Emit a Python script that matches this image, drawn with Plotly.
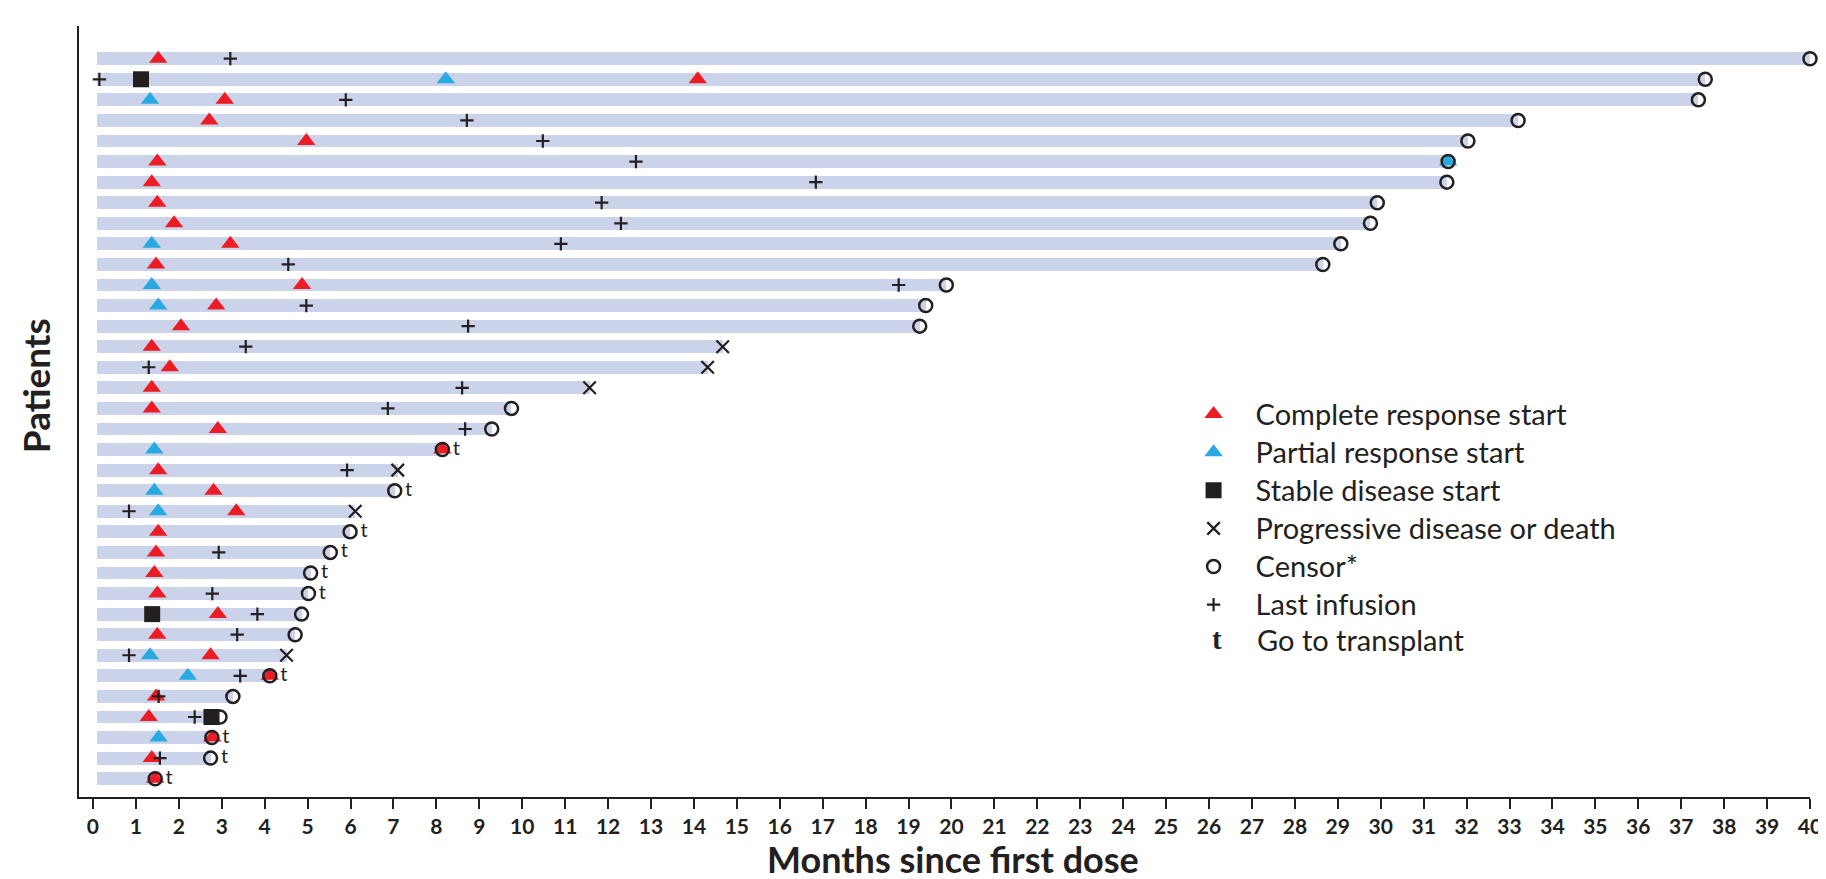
import plotly.graph_objects as go

# ---------------- data (patient rows, 1 = top) ----------------
patients = list(range(1, 37))
follow_up_months = [40.0, 37.56, 37.4, 33.2, 32.03, 31.57, 31.54, 29.92, 29.76, 29.07,
                    28.65, 19.88, 19.40, 19.26, 14.67, 14.32, 11.57, 9.75, 9.29, 8.14,
                    7.10, 7.03, 6.11, 5.99, 5.53, 5.07, 5.02, 4.86, 4.71, 4.51,
                    4.12, 3.26, 2.96, 2.77, 2.74, 1.45]
BAR_START = 0.1

cr_patients = [1, 2, 3, 4, 5, 6, 7, 8, 9, 10, 11, 12, 13, 14, 15, 16, 17, 18,
               19, 20, 21, 22, 23, 24, 25, 26, 27, 28, 29, 30, 31, 32, 33, 34, 35, 36]
cr_months = [1.52, 14.09, 3.07, 2.71, 4.97, 1.50, 1.37, 1.50, 1.89, 3.20, 1.47, 4.87,
             2.87, 2.05, 1.37, 1.79, 1.37, 1.37, 2.91, 8.14, 1.52, 2.81, 3.34, 1.52,
             1.47, 1.43, 1.50, 2.91, 1.50, 2.74, 4.12, 1.47, 1.30, 2.78, 1.37, 1.45]

pr_patients = [2, 3, 6, 10, 12, 13, 20, 22, 23, 30, 31, 34]
pr_months = [8.22, 1.33, 31.57, 1.37, 1.37, 1.52, 1.43, 1.43, 1.52, 1.33, 2.21, 1.53]

sd_patients = [2, 28, 33]
sd_months = [1.12, 1.38, 2.76]

pd_patients = [15, 16, 17, 21, 23, 30]
pd_months = [14.67, 14.32, 11.57, 7.10, 6.11, 4.51]

censor_patients = [1, 2, 3, 4, 5, 6, 7, 8, 9, 10, 11, 12, 13, 14, 18, 19, 20, 22,
                   24, 25, 26, 27, 28, 29, 31, 32, 33, 34, 35, 36]
censor_months = [40.0, 37.56, 37.4, 33.2, 32.03, 31.57, 31.54, 29.92, 29.76, 29.07,
                 28.65, 19.88, 19.40, 19.26, 9.75, 9.29, 8.14, 7.03, 5.99, 5.53,
                 5.07, 5.02, 4.86, 4.71, 4.12, 3.26, 2.96, 2.77, 2.74, 1.45]

inf_patients = [1, 2, 3, 4, 5, 6, 7, 8, 9, 10, 11, 12, 13, 14, 15, 16, 17, 18, 19,
                21, 23, 25, 27, 28, 29, 30, 31, 32, 33, 35]
inf_months = [3.2, 0.15, 5.89, 8.71, 10.48, 12.65, 16.84, 11.85, 12.30, 10.90, 4.55,
              18.77, 4.97, 8.74, 3.56, 1.30, 8.60, 6.87, 8.67, 5.92, 0.84, 2.93, 2.78,
              3.83, 3.36, 0.84, 3.43, 1.53, 2.37, 1.56]

tx_patients = [20, 22, 24, 25, 26, 27, 31, 34, 35, 36]
tx_months = [8.14, 7.03, 5.99, 5.53, 5.07, 5.02, 4.12, 2.77, 2.74, 1.45]

x_ticks = list(range(0, 41))

# ---------------- styles ----------------
INK = "#231f20"
RED = "#ed1c24"
BLUE = "#29a9e1"
BAR = "#cbd3ea"
FONT = "Lato"
LEG_TXT = '<span style="font-size:29px">{}</span>'

fig = go.Figure()

fig.add_trace(go.Bar(
    y=patients, x=[m - BAR_START for m in follow_up_months], base=BAR_START,
    orientation="h", width=0.63, marker=dict(color=BAR, line=dict(width=0)),
    showlegend=False, hoverinfo="skip"))

fig.add_trace(go.Scatter(
    x=cr_months, y=cr_patients, mode="markers", name=LEG_TXT.format("Complete response start"),
    marker=dict(symbol="triangle-up", size=16, color=RED), cliponaxis=False, legendrank=1))
fig.add_trace(go.Scatter(
    x=pr_months, y=pr_patients, mode="markers", name=LEG_TXT.format("Partial response start"),
    marker=dict(symbol="triangle-up", size=16, color=BLUE), cliponaxis=False, legendrank=2))
fig.add_trace(go.Scatter(
    x=censor_months, y=censor_patients, mode="markers", name=LEG_TXT.format("Censor*"),
    marker=dict(symbol="circle-open", size=13, color=INK, line=dict(width=2.5, color=INK)),
    cliponaxis=False, legendrank=5))
fig.add_trace(go.Scatter(
    x=sd_months, y=sd_patients, mode="markers", name=LEG_TXT.format("Stable disease start"),
    marker=dict(symbol="square", size=16, color=INK), cliponaxis=False, legendrank=3))
fig.add_trace(go.Scatter(
    x=pd_months, y=pd_patients, mode="markers",
    name=LEG_TXT.format("Progressive disease or death"),
    marker=dict(symbol="x-thin", size=12.5, color=INK, line=dict(width=2.2, color=INK)),
    cliponaxis=False, legendrank=4))
fig.add_trace(go.Scatter(
    x=inf_months, y=inf_patients, mode="markers", name=LEG_TXT.format("Last infusion"),
    marker=dict(symbol="cross-thin", size=9.5, color=INK, line=dict(width=2.2, color=INK)),
    cliponaxis=False, legendrank=6))
fig.add_trace(go.Scatter(
    x=tx_months, y=tx_patients, mode="markers+text", text=["t"] * len(tx_months),
    textposition="middle right", textfont=dict(family=FONT, size=20, color=INK),
    marker=dict(size=15, opacity=0), cliponaxis=False, showlegend=False, hoverinfo="skip"))

# plot area geometry (px)
L, R, T, B = 71, 17, 18, 90
W, H = 1826, 879
pw, ph = W - L - R, H - T - B

def px_to_paper_x(px):
    return (px - L) / pw

def px_to_paper_y(py):
    return (H - B - py) / ph

fig.update_layout(
    width=W, height=H,
    margin=dict(l=L, r=R, t=T, b=B),
    plot_bgcolor="white", paper_bgcolor="white",
    bargap=0,
    font=dict(family=FONT, color=INK),
    xaxis=dict(range=[-0.325, 40.0], tickmode="array", tickvals=x_ticks,
               ticktext=[str(v) for v in x_ticks], showgrid=False, zeroline=False,
               showline=True, linewidth=2, linecolor=INK, ticks="outside", ticklen=10,
               tickwidth=2, tickcolor=INK,
               tickfont=dict(family=FONT, size=21, color=INK, weight="bold")),
    yaxis=dict(range=[36.89, -0.59], showgrid=False, zeroline=False, showline=True,
               linewidth=2, linecolor=INK, ticks="", showticklabels=False),
    legend=dict(x=px_to_paper_x(1168), y=px_to_paper_y(382), xanchor="left", yanchor="top",
                font=dict(family=FONT, size=27, color=INK), itemwidth=74,
                bgcolor="rgba(0,0,0,0)", traceorder="normal"),
    annotations=[
        dict(text="Months since first dose", xref="paper", yref="paper",
             x=px_to_paper_x(949), y=px_to_paper_y(851), xanchor="center", yanchor="middle",
             showarrow=False, font=dict(family=FONT, size=36, color=INK, weight="bold")),
        dict(text="Patients", xref="paper", yref="paper", textangle=-90,
             x=px_to_paper_x(27), y=px_to_paper_y(378), xanchor="center", yanchor="middle",
             showarrow=False, font=dict(family=FONT, size=37, color=INK, weight="bold")),
        dict(text="t", xref="paper", yref="paper",
             x=px_to_paper_x(1214), y=px_to_paper_y(631), xanchor="center", yanchor="middle",
             showarrow=False, font=dict(family="Liberation Serif", size=29, color=INK, weight="bold")),
        dict(text="Go to transplant", xref="paper", yref="paper",
             x=px_to_paper_x(1252), y=px_to_paper_y(631), xanchor="left", yanchor="middle",
             showarrow=False, font=dict(family=FONT, size=29, color=INK)),
    ],
)

fig.write_html("out.html")
